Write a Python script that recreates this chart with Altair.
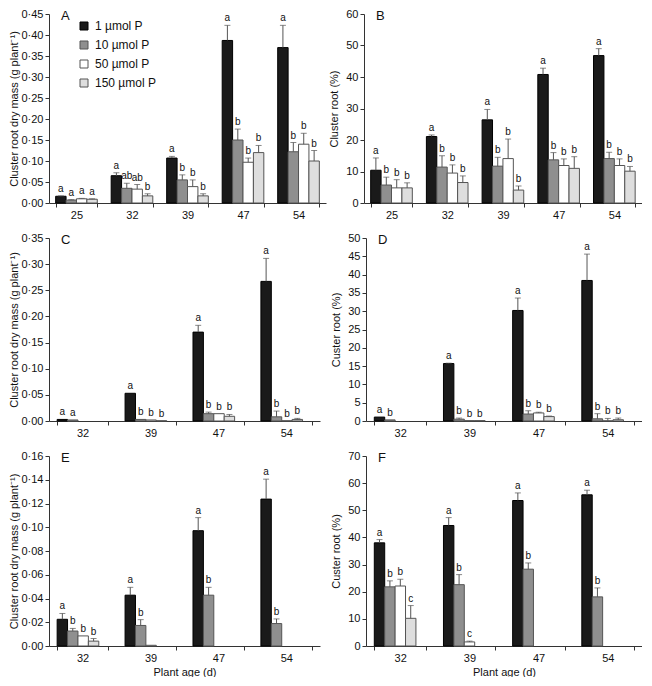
import altair as alt
import pandas as pd

FONT = "Liberation Sans"
TRTS = ["1 µmol P", "10 µmol P", "50 µmol P", "150 µmol P"]
FILLS = ["#1a1a1a", "#8f8f8f", "#ffffff", "#dedede"]
STROKES = ["#000000", "#555555", "#555555", "#555555"]

# ---------------- Panel A : cluster root dry mass ----------------
A_ages = [25, 32, 39, 47, 54]
A_mean = [[0.016, 0.065, 0.107, 0.387, 0.370],
          [0.007, 0.035, 0.055, 0.150, 0.122],
          [0.010, 0.033, 0.039, 0.097, 0.140],
          [0.009, 0.017, 0.017, 0.120, 0.100]]
A_se = [[0.001, 0.007, 0.004, 0.036, 0.053],
        [0.001, 0.012, 0.012, 0.026, 0.022],
        [0.001, 0.011, 0.016, 0.010, 0.026],
        [0.001, 0.005, 0.005, 0.017, 0.025]]
A_let = [["a", "a", "a", "a", "a"],
         ["a", "ab", "b", "b", "b"],
         ["a", "ab", "b", "b", "b"],
         ["a", "b", "b", "b", "b"]]

# ---------------- Panel B : cluster root % ----------------
B_ages = [25, 32, 39, 47, 54]
B_mean = [[10.4, 21.1, 26.4, 40.8, 46.8],
          [5.7, 11.4, 11.7, 13.7, 14.1],
          [4.8, 9.5, 14.1, 11.9, 11.9],
          [4.8, 6.5, 4.1, 11.0, 10.1]]
B_se = [[3.9, 0.5, 3.3, 2.0, 2.2],
        [2.5, 3.6, 2.8, 2.3, 2.0],
        [2.6, 2.6, 6.2, 2.1, 2.1],
        [1.6, 2.1, 1.3, 3.7, 1.5]]
B_let = [["a"] * 5, ["b"] * 5, ["b"] * 5, ["b"] * 5]

# ---------------- Panel C ----------------
C_ages = [32, 39, 47, 54]
C_mean = [[0.003, 0.053, 0.170, 0.267],
          [0.002, 0.003, 0.014, 0.008],
          [None, 0.002, 0.014, 0.0005],
          [None, 0.0005, 0.009, 0.003]]
C_se = [[0.0, 0.0, 0.013, 0.044],
        [0.0, 0.0, 0.003, 0.011],
        [None, 0.0, 0.0, 0.0],
        [None, 0.0, 0.0035, 0.002]]
C_let = [["a", "a", "a", "a"],
         ["a", "b", "b", "b"],
         ["", "b", "b", "b"],
         ["", "b", "b", "b"]]

# ---------------- Panel D ----------------
D_ages = [32, 39, 47, 54]
D_mean = [[1.07, 15.7, 30.2, 38.4],
          [0.3, 0.5, 1.9, 0.6],
          [None, 0.1, 2.2, 0.05],
          [None, 0.1, 1.2, 0.35]]
D_se = [[0.0, 0.1, 3.4, 7.2],
        [0.0, 0.3, 0.9, 1.4],
        [None, 0.0, 0.2, 0.65],
        [None, 0.0, 0.15, 0.45]]
D_let = [["a", "a", "a", "a"],
         ["b", "b", "b", "b"],
         ["", "b", "b", "b"],
         ["", "b", "b", "b"]]

# ---------------- Panel E ----------------
E_ages = [32, 39, 47, 54]
E_mean = [[0.0225, 0.0428, 0.0971, 0.1237],
          [0.0126, 0.0173, 0.0428, 0.0189],
          [0.0085, 0.0006, None, None],
          [0.0041, None, None, None]]
E_se = [[0.0049, 0.0066, 0.011, 0.0168],
        [0.0022, 0.0049, 0.0066, 0.0039],
        [0.0, 0.0, None, None],
        [0.0022, None, None, None]]
E_let = [["a", "a", "a", "a"],
         ["b", "b", "b", "b"],
         ["b", "", "", ""],
         ["b", "", "", ""]]

# ---------------- Panel F ----------------
F_ages = [32, 39, 47, 54]
F_mean = [[38.0, 44.4, 53.6, 55.7],
          [21.8, 22.6, 28.3, 18.1],
          [22.1, 1.5, None, None],
          [10.2, None, None, None]]
F_se = [[1.2, 2.9, 2.8, 1.7],
        [2.2, 3.7, 2.3, 3.3],
        [2.5, 0.3, None, None],
        [4.7, None, None, None]]
F_let = [["a", "a", "a", "a"],
         ["b", "b", "b", "b"],
         ["b", "c", "", ""],
         ["c", "", "", ""]]


def build_df(ages, means, ses, lets):
    rows = []
    for i, trt in enumerate(TRTS):
        for j, age in enumerate(ages):
            m = means[i][j]
            if m is None:
                continue
            s = ses[i][j] or 0.0
            rows.append({"age": age, "trt": trt, "mean": m, "se": s,
                         "top": m + s, "letter": lets[i][j]})
    return pd.DataFrame(rows)


def panel(df, ages, ymax, ystep, decimals, ytitle, letter, width, height,
          left_col, xtitle=None, legend=False):
    nt = int(round(ymax / ystep))
    ticks = [round(k * ystep, 4) for k in range(nt + 1)]
    if decimals:
        lab = "replace(format(datum.value, '.2f'), '.', '·')"
    else:
        lab = "format(datum.value, 'd')"
    ext = 28 if left_col else 20
    tpad = 2 if left_col else 5
    yaxis = alt.Axis(values=ticks, labelExpr=lab, tickSize=4, labelPadding=2,
                     minExtent=ext, maxExtent=ext, titlePadding=tpad,
                     title=ytitle, grid=False)
    yscale = alt.Scale(domain=[0, ymax], nice=False, zero=True)
    xaxis_kw = dict(labelAngle=0, tickBand="extent", tickSize=4,
                    labelPadding=2, titlePadding=3, grid=False)
    xscale = alt.Scale(paddingInner=0.25, paddingOuter=0.12)
    if xtitle:
        X = alt.X("age:O", sort=ages, title=xtitle, scale=xscale,
                  axis=alt.Axis(**xaxis_kw))
    else:
        X = alt.X("age:O", sort=ages, title=None, scale=xscale,
                  axis=alt.Axis(**xaxis_kw))
    XO = alt.XOffset("trt:N", sort=TRTS,
                     scale=alt.Scale(domain=TRTS, paddingInner=0, paddingOuter=0))
    base = alt.Chart(df).encode(x=X, xOffset=XO)

    if legend:
        fill_leg = alt.Legend(orient="none", legendX=29, legendY=6, title=None,
                              symbolType="square", symbolSize=64,
                              symbolStrokeColor="#444444", symbolStrokeWidth=1,
                              labelFontSize=12, labelFont=FONT, labelOffset=5,
                              labelColor="#111111",
                              rowPadding=7, padding=0, direction="vertical")
    else:
        fill_leg = None
    bars = base.mark_bar(strokeWidth=1).encode(
        y=alt.Y("mean:Q", scale=yscale, axis=yaxis, title=ytitle),
        fill=alt.Fill("trt:N", sort=TRTS,
                      scale=alt.Scale(domain=TRTS, range=FILLS), legend=fill_leg),
        stroke=alt.Stroke("trt:N", sort=TRTS,
                          scale=alt.Scale(domain=TRTS, range=STROKES), legend=None),
    )
    err = base.transform_filter("datum.se > 0").mark_rule(
        color="#555555", strokeWidth=1).encode(
        y=alt.Y("mean:Q", scale=yscale, axis=yaxis, title=ytitle),
        y2="top:Q")
    cap = base.transform_filter("datum.se > 0").mark_tick(
        color="#555555", thickness=1, size=6).encode(
        y=alt.Y("top:Q", scale=yscale, axis=yaxis, title=ytitle))
    txt = base.transform_filter("datum.letter != ''").mark_text(
        baseline="bottom", dy=-2, fontSize=10, font=FONT, fill="#111111").encode(
        y=alt.Y("top:Q", scale=yscale, axis=yaxis, title=ytitle),
        text="letter:N")
    plab = alt.Chart(pd.DataFrame({"t": [letter]})).mark_text(
        align="left", baseline="middle", fontSize=13, font=FONT,
        fill="#111111").encode(text="t:N", x=alt.value(12), y=alt.value(2))
    return alt.layer(bars, err, cap, txt, plab).properties(width=width, height=height)


dfA = build_df(A_ages, A_mean, A_se, A_let)
dfB = build_df(B_ages, B_mean, B_se, B_let)
dfC = build_df(C_ages, C_mean, C_se, C_let)
dfD = build_df(D_ages, D_mean, D_se, D_let)
dfE = build_df(E_ages, E_mean, E_se, E_let)
dfF = build_df(F_ages, F_mean, F_se, F_let)

T_MASS = "Cluster root dry mass (g plant⁻¹)"

pA = panel(dfA, A_ages, 0.45, 0.05, True, T_MASS, "A", 277, 189, True, legend=True)
pB = panel(dfB, B_ages, 60, 10, False, "Cluster root (%)", "B", 278, 189, False)
pC = panel(dfC, C_ages, 0.35, 0.05, True, T_MASS, "C", 271, 183, True)
pD = panel(dfD, D_ages, 50, 5, False, "Custer root (%)", "D", 276, 183, False)
pE = panel(dfE, E_ages, 0.16, 0.02, True, T_MASS, "E", 271, 190, True,
           xtitle="Plant age (d)")
pF = panel(dfF, F_ages, 70, 10, False, "Custer root (%)", "F", 276, 190, False,
           xtitle="Plant age (d)")


def row(a, b, sp):
    return alt.hconcat(a, b, spacing=sp).resolve_scale(
        fill="independent", stroke="independent").resolve_legend(
        fill="independent", stroke="independent")


chart = alt.vconcat(row(pA, pB, 2), row(pC, pD, 10), row(pE, pF, 10),
                    spacing=12).resolve_scale(
    fill="independent", stroke="independent").resolve_legend(
    fill="independent", stroke="independent").properties(
    padding={"left": 0, "top": 0, "right": 0, "bottom": 0}
).configure_view(stroke=None).configure_axis(
    labelFont=FONT, titleFont=FONT, labelFontSize=11, titleFontSize=11,
    titleFontWeight="normal", labelColor="#111111", titleColor="#111111",
    domainColor="#333333", tickColor="#333333", grid=False
).configure_text(font=FONT)

chart.save("out.html", embed_options={"renderer": "svg", "actions": False})
